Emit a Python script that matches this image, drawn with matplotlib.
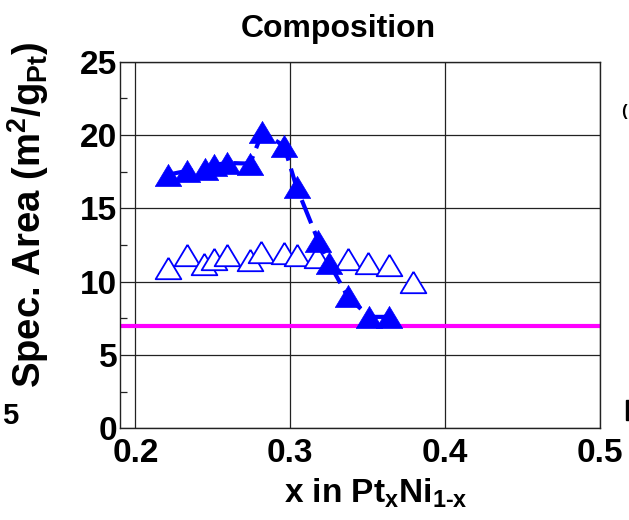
import matplotlib
matplotlib.use("Agg")
import matplotlib.pyplot as plt
from matplotlib.patches import Rectangle
import numpy as np

plt.rcParams['font.family'] = ['Liberation Sans', 'DejaVu Sans']
plt.rcParams['font.weight'] = 'bold'
plt.rcParams['mathtext.fontset'] = 'custom'
plt.rcParams['mathtext.rm'] = 'Liberation Sans:bold'
plt.rcParams['mathtext.bf'] = 'Liberation Sans:bold'
plt.rcParams['mathtext.it'] = 'Liberation Sans:bold'

# Specific area of Pt-Ni catalysts vs. Pt fraction
x_filled = [0.221, 0.233, 0.245, 0.251, 0.259, 0.274, 0.282, 0.296, 0.304,
            0.318, 0.325, 0.337, 0.351, 0.364]
area_filled = [17.3, 17.55, 17.7, 17.95, 18.1, 18.05, 20.2, 19.25, 16.45,
               12.8, 11.3, 9.0, 7.6, 7.6]

x_open = [0.221, 0.233, 0.244, 0.251, 0.259, 0.274, 0.281, 0.296, 0.304,
          0.317, 0.337, 0.350, 0.364, 0.379]
area_open = [10.9, 11.8, 11.2, 11.55, 11.8, 11.45, 12.0, 11.95, 11.8,
             11.7, 11.55, 11.25, 11.15, 10.0]

reference_area = 7.0

x_ticks = [0.2, 0.3, 0.4, 0.5]
x_ticklabels = ['0.2', '0.3', '0.4', '0.5']
y_ticks = [0, 5, 10, 15, 20, 25]

BLUE = '#0000FF'
tri = [(0, 1), (-1.2, -1), (1.2, -1), (0, 1)]

fig = plt.figure(figsize=(6.29, 5.2), dpi=100)
ax = fig.add_axes([0.1908, 0.1763, 0.763, 0.705])

ax.axhline(reference_area, color='#FF00FF', lw=3.0, zorder=2)

ax.plot(x_open, area_open, linestyle='none', marker=tri, markersize=18.5,
        markerfacecolor='white', markeredgecolor=BLUE, markeredgewidth=1.3,
        zorder=3)
ax.plot(x_filled, area_filled, color=BLUE, lw=3.0, dashes=(6, 2),
        marker=tri, markersize=19, markerfacecolor=BLUE,
        markeredgecolor=BLUE, markeredgewidth=0.5, zorder=4)

ax.set_xlim(0.19, 0.5)
ax.set_ylim(0, 25)
ax.set_xticks(x_ticks)
ax.set_xticklabels(x_ticklabels)
ax.set_yticks(y_ticks)
ax.set_yticks(np.arange(2.5, 25, 5), minor=True)
ax.grid(True, which='major', color='#222222', lw=0.9)
ax.tick_params(axis='x', which='major', length=0, labelsize=24, pad=7)
ax.tick_params(axis='y', which='major', length=0, labelsize=24, pad=2)
ax.tick_params(axis='y', which='minor', direction='in', length=5,
               width=0.9, color='#222222')
for lab in ax.get_xticklabels() + ax.get_yticklabels():
    lab.set_fontweight('bold')
for sp in ax.spines.values():
    sp.set_linewidth(1.0)
    sp.set_color('#222222')

ax.set_title('Composition', fontsize=23, fontweight='bold',
             x=0.454, y=1.067, pad=0)
ax.set_xlabel(r'x in Pt$_{\mathbf{x}}$Ni$_{\mathbf{1\text{-}x}}$', fontsize=24,
              fontweight='bold', va='top')
ax.xaxis.set_label_coords(0.533, -0.133)

fig.text(28 / 629, 1 - 215 / 520,
         r'Spec. Area (m$^{\mathbf{2}}$/g$_{\mathbf{Pt}}$)',
         fontsize=27.5, fontweight='bold', rotation=90,
         ha='center', va='center')

# fragments of the neighbouring panels at the figure edges
fig.text(0.003, 0.2, '5', fontsize=21, fontweight='bold', ha='left', va='center')
fig.text(0.996, 0.785, '(', fontsize=12, fontweight='bold', ha='right', va='center')
fig.patches.append(Rectangle((626 / 629, 1 - 420 / 520), 3 / 629, 20 / 520,
                             transform=fig.transFigure, color='black'))

fig.savefig('out.png', dpi=100)
